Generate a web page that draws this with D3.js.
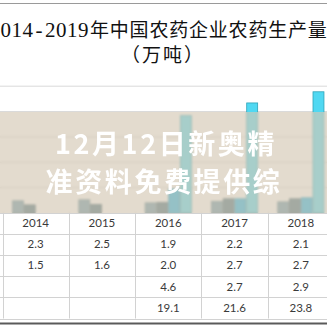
<!DOCTYPE html>
<html>
<head>
<meta charset="utf-8">
<script src="https://cdn.jsdelivr.net/npm/d3@7/dist/d3.min.js"></script>
<style>
  html, body { margin: 0; padding: 0; background: #fff; }
  #wrap { position: relative; width: 327px; height: 327px; overflow: hidden; }
  #wrap svg { position: absolute; left: 0; top: 0; }
  #band {
    position: absolute; left: 0; width: 327px;
    background: rgba(212, 201, 180, 0.66);
    backdrop-filter: blur(1px);
    -webkit-backdrop-filter: blur(1px);
  }
</style>
</head>
<body>
<div id="wrap"></div>
<script>
// Pesticide output by enterprise type, 10k tonnes
const years = ["2014", "2015", "2016", "2017", "2018"];
const seriesA = [2.3, 2.5, 1.9, 2.2, 2.1];
const seriesB = [1.5, 1.6, 2.0, 2.7, 2.7];
const seriesC = [null, null, 4.6, 2.7, 2.9];
const seriesD = [null, null, 19.1, 21.6, 23.8];
const yTicks = [5, 10, 15, 20, 25];

const seriesList = [
  { key: "A", values: seriesA, fill: "#6896aa", stroke: "#56818f" },
  { key: "B", values: seriesB, fill: "#46707f", stroke: "#3a5e6b" },
  { key: "C", values: seriesC, fill: "#1cb2e6", stroke: "#1797c2" },
  { key: "D", values: seriesD, fill: "#50d8f2", stroke: "#2fa3b8" }
];

const W = 327, H = 327;
const colW = 66.3, x0 = 2.5;
const baseY = 212.5;
const rowH = 21.2;

const wrap = d3.select("#wrap");
const svg = wrap.append("svg").attr("width", W).attr("height", H);

svg.append("rect").attr("width", W).attr("height", H).attr("fill", "#fff");

// frame lines
svg.append("line").attr("x1", 0).attr("x2", W).attr("y1", 3.5).attr("y2", 3.5)
  .attr("stroke", "#9a9a9a").attr("stroke-width", 1);
svg.append("line").attr("x1", 0).attr("x2", W).attr("y1", 323.5).attr("y2", 323.5)
  .attr("stroke", "#5a5a5a").attr("stroke-width", 2);

// title
const title = svg.append("g").attr("fill", "#111")
  .style("font-family", "'Liberation Serif', 'Noto Sans CJK SC', serif");
const t1 = title.append("text")
  .attr("x", 89).attr("y", 36.5).attr("text-anchor", "end")
  .style("font-size", "21px").style("letter-spacing", "0.5px");
t1.append("tspan").text("2014");
t1.append("tspan").attr("dx", 2).text("-");
t1.append("tspan").attr("dx", 2).text("2019");
title.append("text")
  .attr("x", 90).attr("y", 36.5)
  .style("font-size", "19px").style("letter-spacing", "0.8px")
  .text("年中国农药企业农药生产量");
title.append("text")
  .attr("x", 163).attr("y", 61.5).attr("text-anchor", "middle")
  .style("font-size", "19px").style("letter-spacing", "2px")
  .text("（万吨）");

// scales
const x = d3.scaleBand().domain(years).range([x0, x0 + colW * years.length]).padding(0);
const x1 = d3.scaleBand().domain(seriesList.map(s => s.key))
  .range([0, x.bandwidth()]).paddingInner(0).paddingOuter(0.82);
const y = d3.scaleLinear().domain([0, 25]).range([baseY, 85.7]);

// gridlines
const grid = svg.append("g").attr("transform", `translate(${W},0)`)
  .call(d3.axisLeft(y).tickValues(yTicks).tickSize(W).tickFormat(""));
grid.select(".domain").remove();
grid.selectAll(".tick line").attr("stroke", "#d9d9d9").attr("stroke-width", 1);

// bars
const barG = svg.append("g");
seriesList.forEach(s => {
  barG.selectAll(null)
    .data(years.map((yr, i) => ({ yr, v: s.values[i] })).filter(d => d.v != null))
    .join("rect")
    .attr("x", d => x(d.yr) + x1(s.key) + 0.4)
    .attr("width", x1.bandwidth() - 0.8)
    .attr("y", d => y(d.v))
    .attr("height", d => baseY - y(d.v))
    .attr("fill", s.fill)
    .attr("stroke", s.stroke)
    .attr("stroke-width", 0.8);
});

// data table
const table = svg.append("g");
const nRows = 1 + seriesList.length;
const rowLines = d3.range(nRows + 1).map(i => baseY + i * rowH);
table.selectAll(null).data(rowLines).join("line")
  .attr("x1", 0).attr("x2", W)
  .attr("y1", d => Math.round(d) + 0.5).attr("y2", d => Math.round(d) + 0.5)
  .attr("stroke", "#d2d2d2");
const colLines = d3.range(years.length + 1).map(i => x0 + i * colW);
table.selectAll(null).data(colLines).join("line")
  .attr("x1", d => Math.round(d) + 0.5).attr("x2", d => Math.round(d) + 0.5)
  .attr("y1", baseY).attr("y2", rowLines[nRows])
  .attr("stroke", "#d2d2d2");

const txt = table.append("g")
  .attr("fill", "#3a3a3a").attr("text-anchor", "middle")
  .style("font-family", "Lato, 'Liberation Sans', sans-serif")
  .style("font-size", "11.5px");
txt.selectAll(null).data(years).join("text")
  .attr("x", d => x(d) + x.bandwidth() / 2)
  .attr("y", baseY + 14.5)
  .text(d => d);
const fmt = d3.format(".1f");
seriesList.forEach((s, r) => {
  txt.selectAll(null)
    .data(years.map((yr, i) => ({ yr, v: s.values[i] })).filter(d => d.v != null))
    .join("text")
    .attr("x", d => x(d.yr) + x.bandwidth() / 2)
    .attr("y", baseY + rowH * (r + 1) + 14.5)
    .text(d => fmt(d.v));
});

// frosted banner across the plot
const bandTop = 111.5;
wrap.append("div").attr("id", "band")
  .style("top", bandTop + "px")
  .style("height", (baseY - bandTop) + "px");

const over = wrap.append("svg").attr("width", W).attr("height", H)
  .style("font-family", "'Noto Sans CJK SC', sans-serif")
  .style("font-weight", "700")
  .style("font-size", "27px")
  .attr("fill", "#ffffff")
  .attr("text-anchor", "middle");
over.append("text").attr("x", 166).attr("y", 154)
  .style("letter-spacing", "2.6px").text("12月12日新奥精");
over.append("text").attr("x", 164).attr("y", 192)
  .style("letter-spacing", "2.6px").text("准资料免费提供综");
</script>
</body>
</html>
